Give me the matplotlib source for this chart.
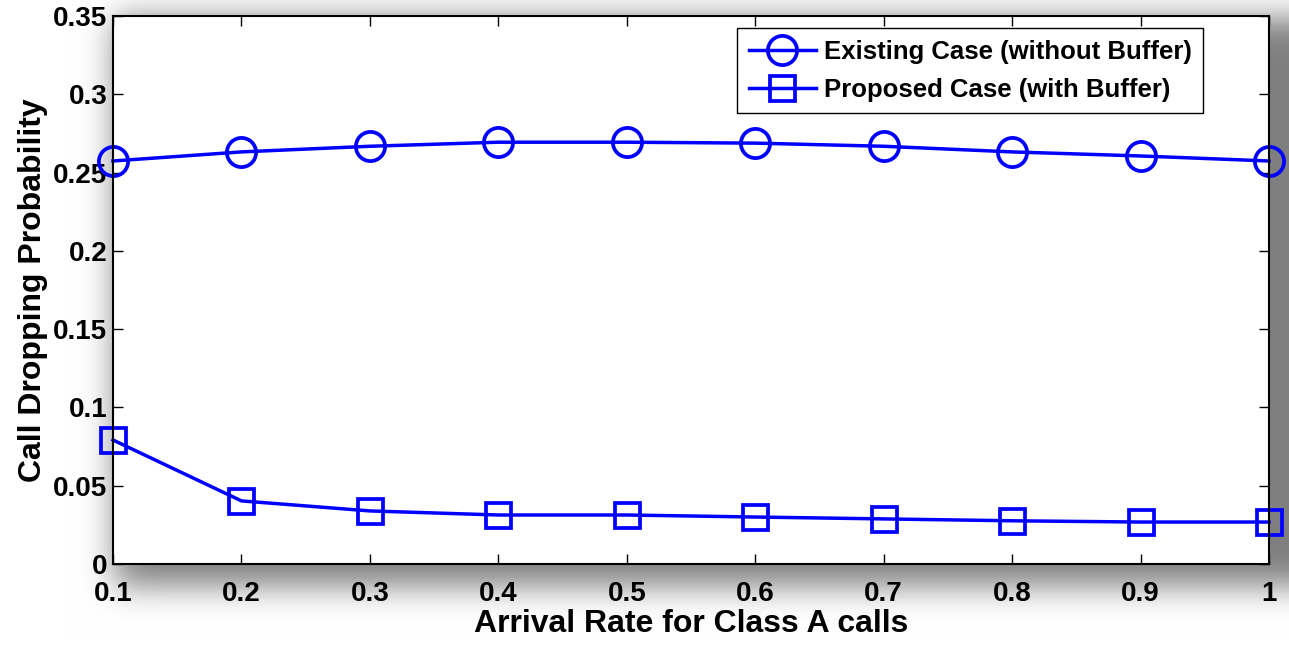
import numpy as np
import matplotlib
matplotlib.use("Agg")
import matplotlib.pyplot as plt

plt.rcParams['font.family'] = ['Liberation Sans', 'DejaVu Sans']
plt.rcParams['font.weight'] = 'bold'

arrival_rate = [0.1, 0.2, 0.3, 0.4, 0.5, 0.6, 0.7, 0.8, 0.9, 1.0]
existing_drop = [0.2574, 0.2632, 0.2668, 0.2694, 0.2694, 0.2688, 0.2668, 0.2632, 0.2606, 0.2574]
proposed_drop = [0.0792, 0.0403, 0.0339, 0.0313, 0.0313, 0.0300, 0.0288, 0.0276, 0.0268, 0.0268]

x_ticks = [0.1, 0.2, 0.3, 0.4, 0.5, 0.6, 0.7, 0.8, 0.9, 1.0]
x_tick_labels = ['0.1', '0.2', '0.3', '0.4', '0.5', '0.6', '0.7', '0.8', '0.9', '1']
y_ticks = [0, 0.05, 0.1, 0.15, 0.2, 0.25, 0.3, 0.35]
y_tick_labels = ['0', '0.05', '0.1', '0.15', '0.2', '0.25', '0.3', '0.35']

W, H = 1289, 645
L, R, T, B = 113, 1269, 16, 564   # axes box in pixels

fig = plt.figure(figsize=(W / 100, H / 100), dpi=100)
fig.patch.set_facecolor('white')


def soft_box(n, lo, hi, sigma):
    # 1-D box from lo to hi smoothed by a gaussian
    box = np.zeros(n)
    box[int(lo):int(hi)] = 1.0
    r = int(3 * sigma)
    k = np.exp(-0.5 * (np.arange(-r, r + 1) / sigma) ** 2)
    k /= k.sum()
    return np.convolve(np.pad(box, r, mode='edge'), k, mode='same')[r:-r]


# drop shadow behind the plotting box
gx = soft_box(W, L + 2, R + 22, 16)
gy = soft_box(H, T + 2, B + 22, 16)
shade = 1.0 - 0.5 * np.outer(gy, gx)
bg = fig.add_axes([0, 0, 1, 1], zorder=0)
bg.imshow(np.dstack([shade] * 3), extent=(0, W, H, 0), aspect='auto', interpolation='bilinear')
bg.set_xlim(0, W)
bg.set_ylim(H, 0)
bg.axis('off')

ax = fig.add_axes([L / W, 1 - B / H, (R - L) / W, (B - T) / H], zorder=1)
ax.set_facecolor('white')

ax.plot(arrival_rate, existing_drop, color='blue', lw=2.5, marker='o', ms=21,
        mfc='none', mec='blue', mew=2.7, label='Existing Case (without Buffer)', clip_on=False)
ax.plot(arrival_rate, proposed_drop, color='blue', lw=2.5, marker='s', ms=18,
        mfc='none', mec='blue', mew=2.7, label='Proposed Case (with Buffer)', clip_on=False)

ax.set_xlim(0.1, 1.0)
ax.set_ylim(0, 0.35)
ax.set_xticks(x_ticks)
ax.set_xticklabels(x_tick_labels)
ax.set_yticks(y_ticks)
ax.set_yticklabels(y_tick_labels)
ax.tick_params(direction='in', length=7, width=1, top=True, right=True, labelsize=20)
ax.tick_params(axis='x', pad=12)
ax.tick_params(axis='y', pad=4)
for s in ax.spines.values():
    s.set_linewidth(1.5)

ax.set_xlabel('Arrival Rate for Class A calls', fontsize=23, fontweight='bold', labelpad=2)
ax.set_ylabel('Call Dropping Probability', fontsize=23, fontweight='bold', labelpad=4)

leg = ax.legend(loc='upper right', bbox_to_anchor=(1203 / W, 1 - 28 / H),
                bbox_transform=fig.transFigure, borderaxespad=0, fancybox=False,
                framealpha=1, edgecolor='black', prop={'size': 18.5, 'weight': 'bold'},
                handlelength=2.6, handletextpad=0.3, borderpad=0.45, labelspacing=0.55)
leg.get_frame().set_linewidth(1.0)

fig.savefig('out.png', dpi=100)
